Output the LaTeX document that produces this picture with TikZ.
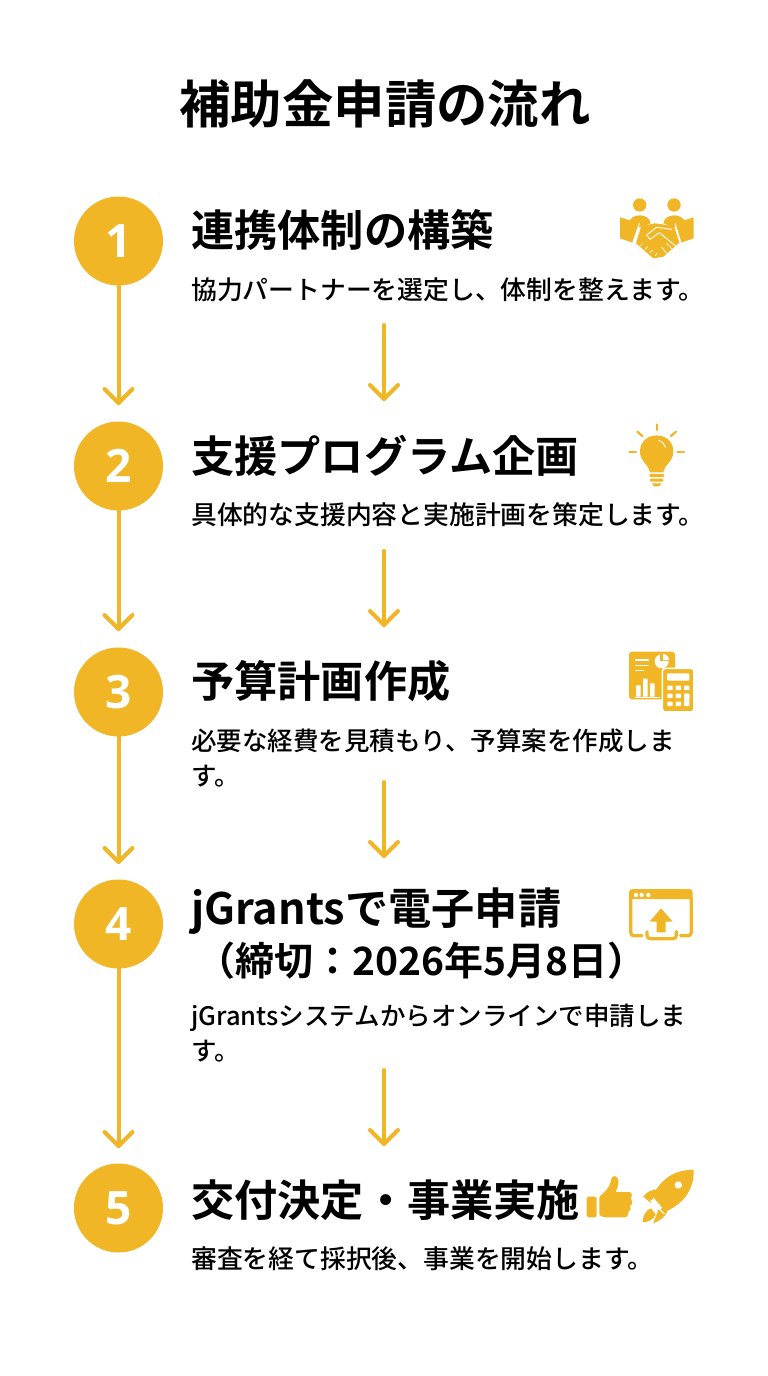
\documentclass[tikz,border=0pt]{standalone}
\usepackage{fontspec}
\setmainfont{Noto Sans CJK JP}
\newfontfamily\jpbold{Noto Sans CJK JP Bold}
\newfontfamily\jpmed{Noto Sans CJK JP Medium}
\newfontfamily\numbold{Open Sans}
\usetikzlibrary{calc}
\definecolor{gold}{HTML}{F0B625}
\tikzset{
 x=1pt,y=-1pt,
 titletext/.style={anchor=base,inner sep=0,font=\jpbold\fontsize{51.4}{55}\selectfont},
 headtext/.style={anchor=base west,inner sep=0,font=\jpbold\fontsize{43.2}{52}\selectfont},
 headsmall/.style={anchor=base west,inner sep=0,font=\jpbold\fontsize{39}{52}\selectfont},
 desctext/.style={anchor=base west,inner sep=0,font=\jpmed\fontsize{25.8}{34}\selectfont},
 desctight/.style={anchor=base west,inner sep=0,font=\jpmed\fontsize{25.5}{34}\selectfont},
 stepcircle/.style={circle,fill=gold,draw=none,minimum size=89pt,inner sep=0,text=white,font=\numbold\bfseries\fontsize{46}{46}\selectfont},
 flowarrow/.style={draw=gold,line width=4pt,line cap=round,line join=round},
 iconline/.style={draw=gold,line cap=round,line join=round},
 zoomed/.style={x=0.3333pt,y=-0.3333pt},
}
\newcommand{\flowtip}[1]{\draw[flowarrow] ($(#1)+(-14,-14)$) -- (#1) -- ($(#1)+(14,-14)$);}
\begin{document}
\begin{tikzpicture}
\useasboundingbox (0,0) rectangle (768,1376);
\fill[white] (0,0) rectangle (768,1376);
\node[titletext] (title) at (385,123) {補助金申請の流れ};
% left arrows
\coordinate (c1) at (118.5,241);
\coordinate (c2) at (118.5,466);
\coordinate (c3) at (118.5,692);
\coordinate (c4) at (118.5,924);
\coordinate (c5) at (118.5,1208);
\coordinate (l1) at (118.5,403);
\coordinate (l2) at (118.5,629);
\coordinate (l3) at (118.5,862);
\coordinate (l4) at (118.5,1146);
\draw[flowarrow] (c1) -- (l1); \flowtip{l1}
\draw[flowarrow] (c2) -- (l2); \flowtip{l2}
\draw[flowarrow] (c3) -- (l3); \flowtip{l3}
\draw[flowarrow] (c4) -- (l4); \flowtip{l4}
% circles
\node[stepcircle] (n1) at (c1) {1};
\node[stepcircle] (n2) at (c2) {2};
\node[stepcircle] (n3) at (c3) {3};
\node[stepcircle] (n4) at (c4) {4};
\node[stepcircle] (n5) at (c5) {5};
% middle arrows
\coordinate (ms1) at (384,325); \coordinate (me1) at (384,399);
\coordinate (ms2) at (384,551); \coordinate (me2) at (384,625);
\coordinate (ms3) at (384,782); \coordinate (me3) at (384,856);
\coordinate (ms4) at (384,1070); \coordinate (me4) at (384,1144);
\foreach \i in {1,...,4}{\draw[flowarrow] (ms\i) -- (me\i); \flowtip{me\i}}
% text
\node[headtext] (h1) at (191,246) {連携体制の構築};
\node[desctext] (d1) at (191,299) {協力パートナーを選定し、体制を整えます。};
\node[headtext] (h2) at (191,472) {支援プログラム企画};
\node[desctext] (d2) at (191,524) {具体的な支援内容と実施計画を策定します。};
\node[headtext] (h3) at (191,697) {予算計画作成};
\node[desctight] (d3) at (191,750) {必要な経費を見積もり、予算案を作成しま};
\node[desctight] (d3b) at (191,785) {す。};
\node[headtext] (h4) at (191,924) {jGrantsで電子申請};
\node[headsmall] (h4b) at (196,975) {（締切：2026年5月8日）};
\node[desctight] (d4) at (191,1025) {jGrantsシステムからオンラインで申請しま};
\node[desctight] (d4b) at (191,1060) {す。};
\node[headtext] (h5) at (191,1216) {交付決定・事業実施};
\node[desctext] (d5) at (191,1268) {審査を経て採択後、事業を開始します。};
% handshake icon
\begin{scope}[shift={(600,190)},zoomed]
\fill[gold] (119,45) circle (20);
\fill[gold] (222,45) circle (20);
\fill[gold] (86,100) .. controls (90,68) and (148,68) .. (152,100) -- (120,112) -- cycle;
\fill[gold] (190,100) .. controls (194,68) and (252,68) .. (256,100) -- (225,112) -- cycle;
\fill[gold] (60,82) -- (118,100) -- (98,158) -- (60,145) -- cycle;
\fill[gold] (281,82) -- (225,100) -- (243,158) -- (281,145) -- cycle;
\fill[gold] (124,108) -- (165,100) -- (222,108) -- (238,158) -- (190,200) -- (160,205) -- (108,160) -- cycle;
\draw[white,line width=.9pt,line join=round,line cap=round] (215,118) -- (170,112) -- (140,135) -- (150,148) -- (178,128) -- (232,172);
\draw[white,line width=.7pt,line cap=round] (200,160) -- (215,176) (185,172) -- (200,190);
\draw[white,line width=.9pt] (118,100) -- (98,158) (225,100) -- (243,158);
\foreach \p/\q in {120/168,135/178,150/188,165/197}{\draw[white,line width=.7pt] (\p,\q) ++(8,-8) -- ++(-8,8);}
\end{scope}
% bulb icon
\begin{scope}[shift={(610,415)},zoomed]
\fill[gold] (120,172) .. controls (118,150) and (90,140) .. (90,110) .. controls (90,45) and (190,45) .. (190,110) .. controls (190,140) and (162,150) .. (160,172) -- cycle;
\draw[white,line width=.9pt,line cap=round] (146,76) .. controls (158,80) and (164,88) .. (167,98);
\foreach \a/\b/\c/\d in {140/28/140/45,82/50/97/63,198/50/183/63,58/110/78/110,222/110/202/110}{\draw[iconline,line width=2.2pt] (\a,\b) -- (\c,\d);}
\fill[gold,rounded corners=1pt] (118,177) rectangle (162,186);
\fill[gold,rounded corners=1pt] (120,191) rectangle (160,200);
\fill[gold] (126,205) -- (154,205) -- (148,214) -- (132,214) -- cycle;
\end{scope}
% budget icon
\begin{scope}[shift={(610,640)},zoomed]
\fill[gold,rounded corners=3pt] (57,35) rectangle (195,178);
\foreach \y/\w in {60/118,76/118,92/102}{\draw[white,line width=1.1pt] (75,\y) -- (\w,\y);}
\fill[white] (155,64) circle (21);
\fill[gold] (150,38) rectangle (180,62);
\fill[white] (159,60) -- (159,42) arc (-90:0:18) -- cycle;
\fill[white] (78,136) rectangle (92,170) (99,116) rectangle (113,170) (120,130) rectangle (134,170);
\draw[white,line width=1.2pt] (74,172) -- (150,172);
\fill[gold,draw=white,line width=1.6pt,rounded corners=3pt] (157,85) rectangle (252,216);
\fill[white,rounded corners=1pt] (171,100) rectangle (238,122);
\foreach \x in {172,197,222}{\foreach \y in {137,161}{\fill[white,rounded corners=.5pt] (\x,\y) rectangle +(16,13);}}
\foreach \x in {172,197}{\fill[white,rounded corners=.5pt] (\x,185) rectangle +(16,13);}
\fill[white,rounded corners=.5pt] (222,161) rectangle (238,198);
\end{scope}
% upload icon
\begin{scope}[shift={(610,875)},zoomed]
\fill[gold] (57,72) -- (57,52) arc (180:270:10) -- (238,42) arc (-90:0:10) -- (248,72) -- cycle;
\draw[iconline,line width=3.2pt] (62,70) -- (62,172) .. controls (62,180) and (66,182) .. (72,182) -- (96,182);
\draw[iconline,line width=3.2pt] (244,70) -- (244,172) .. controls (244,180) and (240,182) .. (234,182) -- (212,182);
\foreach \x in {78,95,115}{\fill[white] (\x,60) circle (6.5);}
\fill[gold] (153,100) -- (188,140) -- (167,140) -- (167,172) -- (140,172) -- (140,140) -- (119,140) -- cycle;
\draw[iconline,line width=3.2pt] (111,170) -- (111,180) .. controls (111,188) and (114,191) .. (122,191) -- (188,191) .. controls (196,191) and (199,188) .. (199,180) -- (199,170);
\end{scope}
% thumb icon
\begin{scope}[shift={(575,1160)},zoomed]
\fill[gold,rounded corners=1.5pt] (35,110) rectangle (65,172);
\fill[gold,rounded corners=1pt] (73,110) .. controls (90,95) and (103,85) .. (108,60) .. controls (112,42) and (130,48) .. (130,65) .. controls (131,78) and (125,88) .. (122,96) -- (160,96) .. controls (172,96) and (172,112) .. (165,116) .. controls (175,122) and (172,134) .. (164,136) .. controls (170,144) and (166,154) .. (158,156) .. controls (161,166) and (156,172) .. (148,172) -- (95,172) .. controls (85,172) and (78,168) .. (73,165) -- cycle;
\end{scope}
% rocket icon
\begin{scope}[shift={(575,1160)},zoomed]
\fill[gold] (356,29) .. controls (300,30) and (262,52) .. (232,108) -- (272,155) .. controls (330,128) and (358,85) .. (356,29) -- cycle;
\fill[gold] (205,110) .. controls (215,95) and (230,88) .. (250,88) -- (226,128) -- cycle;
\fill[gold] (235,190) .. controls (260,180) and (278,165) .. (282,135) -- (250,150) -- cycle;
\fill[gold] (203,187) .. controls (202,170) and (212,150) .. (228,145) -- (242,163) .. controls (236,178) and (222,186) .. (203,187) -- cycle;
\draw[white,line width=1pt] (226,120) -- (268,162);
\fill[white] (310,75) circle (11);
\end{scope}
\end{tikzpicture}
\end{document}
